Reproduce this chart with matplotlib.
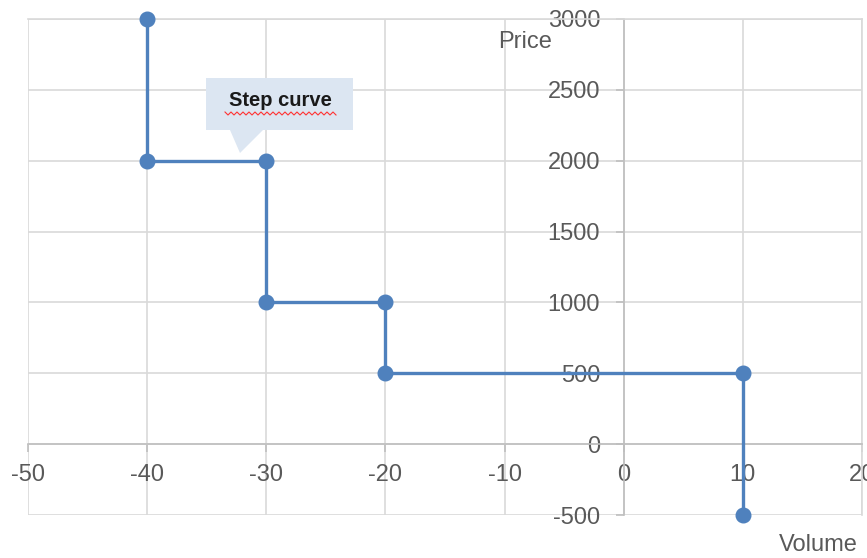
import numpy as np
import matplotlib
matplotlib.use("Agg")
import matplotlib.pyplot as plt
from matplotlib.patches import Polygon

plt.rcParams['font.family'] = ['Liberation Sans', 'DejaVu Sans']
plt.rcParams['axes.unicode_minus'] = False

# step curve points
volume = [-40, -40, -30, -30, -20, -20, 10, 10]
price = [3000, 2000, 2000, 1000, 1000, 500, 500, -500]

x_ticks = [-50, -40, -30, -20, -10, 0, 10, 20]
y_ticks = [-500, 0, 500, 1000, 1500, 2000, 2500, 3000]

W, H = 867, 558
fig = plt.figure(figsize=(W / 100, H / 100), dpi=100)
L, R, T, B = 28, 862, 19, 515
ax = fig.add_axes([L / W, 1 - B / H, (R - L) / W, (B - T) / H])

grid_c = '#d9d9d9'
axis_c = '#bfbfbf'
text_c = '#595959'

ax.plot(volume, price, '-o', color='#4f81bd', lw=2.4, markersize=10.5,
        clip_on=False, zorder=5)

ax.set_xlim(-50, 20)
ax.set_ylim(-500, 3000)
ax.set_xticks(x_ticks)
ax.set_yticks(y_ticks)
ax.grid(True, color=grid_c, lw=1.2, zorder=0)
ax.set_axisbelow(True)

ax.spines['left'].set_position(('data', 0))
ax.spines['bottom'].set_position(('data', 0))
for s in ['left', 'bottom']:
    ax.spines[s].set_color(axis_c)
    ax.spines[s].set_linewidth(1.2)
for s in ['top', 'right']:
    ax.spines[s].set_color(grid_c)
    ax.spines[s].set_linewidth(1.2)

ax.tick_params(axis='x', direction='out', length=6, width=1.2, color=axis_c,
               labelsize=17, labelcolor=text_c, pad=8)
ax.tick_params(axis='y', direction='out', length=6, width=1.2, color=axis_c,
               labelsize=17, labelcolor=text_c, pad=11)

# axis titles
ax.text((552 - L) / (R - L), (B - 42) / (B - T), 'Price', transform=ax.transAxes,
        ha='right', va='center', fontsize=17, color=text_c)
ax.text((858 - L) / (R - L), (B - 545) / (B - T), 'Volume', transform=ax.transAxes,
        ha='right', va='center', fontsize=17, color=text_c, clip_on=False)

# callout
def to_ax(px, py):
    return ((px - L) / (R - L), (B - py) / (B - T))

shape = [to_ax(*p) for p in [(206, 78), (353, 78), (353, 130), (263, 130),
                             (240, 153), (230, 130), (206, 130)]]
ax.add_patch(Polygon(shape, closed=True, transform=ax.transAxes,
                     facecolor='#dce6f2', edgecolor='none', zorder=6))
tx, ty = to_ax(280, 101)
ax.text(tx, ty, 'Step curve', transform=ax.transAxes, ha='center', va='center',
        fontsize=14.5, fontweight='bold', color='#1a1a1a', zorder=7)

# spell check squiggle
sx = np.arange(225, 337, 3)
sy = np.where(np.arange(len(sx)) % 2 == 0, 112, 115)
sq = [to_ax(a, b) for a, b in zip(sx, sy)]
ax.plot([p[0] for p in sq], [p[1] for p in sq], transform=ax.transAxes,
        color='#ff3333', lw=0.8, zorder=7)

fig.savefig('out.png', dpi=100)
